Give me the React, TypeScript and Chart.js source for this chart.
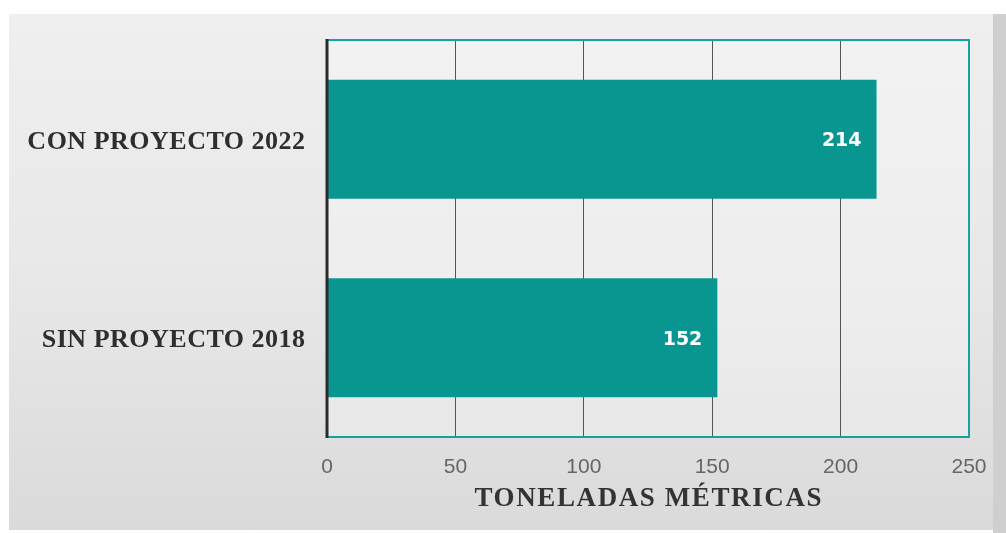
import React, { useEffect, useRef } from "react";
import { Chart, registerables } from "chart.js";

Chart.register(...registerables);

const categories = ["CON PROYECTO 2022", "SIN PROYECTO 2018"];
const values = [214, 152];
const xTicks = [0, 50, 100, 150, 200, 250];
const axisTitle = "TONELADAS MÉTRICAS";

const barColor = "#0a9690";

function spacedText(ctx: any, text: string, x: number, y: number, spacing: number, align: "left" | "right" | "center") {
  ctx.letterSpacing = spacing + "px";
  const w = ctx.measureText(text).width - spacing;
  let sx = x;
  if (align === "right") sx = x - w;
  else if (align === "center") sx = x - w / 2;
  ctx.textAlign = "left";
  ctx.fillText(text, sx, y);
  ctx.letterSpacing = "0px";
}

const framePlugin = {
  id: "frame",
  beforeDraw(chart: any) {
    const { ctx, chartArea } = chart;
    ctx.save();
    ctx.fillStyle = "rgba(248,248,248,0.35)";
    ctx.fillRect(chartArea.left, chartArea.top, chartArea.right - chartArea.left, chartArea.bottom - chartArea.top);
    ctx.restore();
  },
  afterDraw(chart: any) {
    const { ctx, chartArea } = chart;
    const xs = chart.scales.x;
    const ys = chart.scales.y;
    ctx.save();
    ctx.strokeStyle = "#17a39a";
    ctx.lineWidth = 2;
    ctx.strokeRect(chartArea.left, chartArea.top, chartArea.right - chartArea.left, chartArea.bottom - chartArea.top);
    ctx.strokeStyle = "#2b2b2b";
    ctx.lineWidth = 3;
    ctx.beginPath();
    ctx.moveTo(chartArea.left, chartArea.top - 1);
    ctx.lineTo(chartArea.left, chartArea.bottom + 1);
    ctx.stroke();

    ctx.textBaseline = "middle";
    // value labels
    const meta = chart.getDatasetMeta(0);
    ctx.fillStyle = "#ffffff";
    ctx.font = "bold 19px 'DejaVu Sans'";
    meta.data.forEach((bar: any, i: number) => {
      spacedText(ctx, String(values[i]), bar.x - 15, bar.y + 2, 0, "right");
    });

    // category labels
    ctx.fillStyle = "#2e2e2e";
    ctx.font = "bold 26px 'Liberation Serif'";
    categories.forEach((c, i) => {
      spacedText(ctx, c, chartArea.left - 22, ys.getPixelForValue(i) + 3, 0.5, "right");
    });

    // x tick labels
    ctx.fillStyle = "#666666";
    ctx.font = "21px 'Liberation Sans'";
    xTicks.forEach((v) => {
      spacedText(ctx, String(v), xs.getPixelForValue(v), chartArea.bottom + 30, 0, "center");
    });

    // axis title
    ctx.fillStyle = "#333333";
    ctx.font = "bold 27px 'Liberation Serif'";
    spacedText(ctx, axisTitle, (chartArea.left + chartArea.right) / 2, chartArea.bottom + 62, 1.6, "center");
    ctx.restore();
  },
};

export default function App() {
  const ref = useRef<HTMLCanvasElement>(null);
  useEffect(() => {
    const chart = new Chart(ref.current!, {
      type: "bar",
      data: {
        labels: categories,
        datasets: [
          {
            data: values,
            backgroundColor: barColor,
            barPercentage: 0.6,
            categoryPercentage: 1.0,
          },
        ],
      },
      options: {
        indexAxis: "y",
        animation: false,
        responsive: false,
        maintainAspectRatio: false,
        layout: { padding: { left: 0, top: 26, right: 24, bottom: 0 } },
        plugins: { legend: { display: false }, tooltip: { enabled: false } },
        scales: {
          x: {
            min: 0,
            max: 250,
            afterBuildTicks: (scale: any) => {
              scale.ticks = xTicks.map((v) => ({ value: v }));
            },
            afterFit: (scale: any) => {
              scale.height = 93;
            },
            grid: { color: "#555555", lineWidth: 1, drawTicks: false },
            border: { display: false },
            ticks: { display: false },
          },
          y: {
            afterFit: (scale: any) => {
              scale.width = 318;
            },
            grid: { display: false, drawTicks: false },
            border: { display: false },
            ticks: { display: false },
          },
        },
      },
      plugins: [framePlugin],
    });
    return () => chart.destroy();
  }, []);

  return (
    <div style={{ position: "absolute", left: 0, top: 0, width: 1006, height: 533, background: "#ffffff", overflow: "hidden" }}>
      <div style={{ position: "absolute", left: 993, top: 14, width: 13, height: 519, background: "#cfcfcf" }} />
      <div
        style={{
          position: "absolute",
          left: 9,
          top: 14,
          width: 984,
          height: 516,
          background: "linear-gradient(to bottom, #efefef 0%, #e8e8e8 50%, #dadada 100%)",
        }}
      >
        <canvas ref={ref} width={984} height={516} style={{ display: "block" }} />
      </div>
    </div>
  );
}
